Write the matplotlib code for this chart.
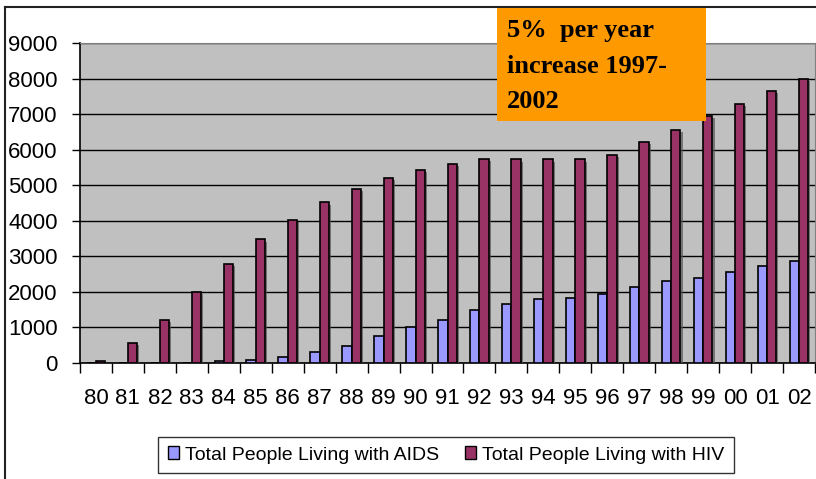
import matplotlib as mpl
mpl.use('Agg')
import matplotlib.pyplot as plt
import matplotlib.patheffects as pe
from matplotlib.patches import Rectangle, Patch
from matplotlib.lines import Line2D
import numpy as np

plt.rcParams['font.family'] = ['Liberation Sans', 'DejaVu Sans']

years = ['80','81','82','83','84','85','86','87','88','89','90','91',
         '92','93','94','95','96','97','98','99','00','01','02']
aids = [0, 0, 0, 0, 50, 95, 180, 310, 490, 750, 1010, 1220,
        1480, 1650, 1790, 1830, 1950, 2130, 2300, 2390, 2570, 2735, 2865]
hiv = [50, 565, 1220, 1995, 2775, 3475, 4035, 4515, 4900, 5210, 5420, 5610,
       5730, 5725, 5725, 5725, 5855, 6210, 6555, 6940, 7290, 7640, 7980]
note = "5%  per year\nincrease 1997-\n2002"

W, H = 816, 479
fig = plt.figure(figsize=(W/100, H/100), dpi=100)
fig.patch.set_facecolor('white')

# outer chart frame
fig.add_artist(Line2D([5/W, 1], [1-7/H, 1-7/H], color='#222222', lw=1.5))
fig.add_artist(Line2D([5/W, 5/W], [0, 1-7/H], color='#222222', lw=1.5))

ax = fig.add_axes([80/W, 1-363/H, 735/W, 320/H])
ax.set_facecolor('#C0C0C0')

x = np.arange(len(years))
bw = 0.29
shadow = [pe.SimplePatchShadow(offset=(1.5, -1.5), shadow_rgbFace='#555555', alpha=0.7), pe.Normal()]
b1 = ax.bar(x - bw/2, aids, bw, color='#9999FF', edgecolor='black', linewidth=1.2,
            label='Total People Living with AIDS', zorder=3)
b2 = ax.bar(x + bw/2, hiv, bw, color='#993366', edgecolor='black', linewidth=1.2,
            label='Total People Living with HIV', zorder=3)
for b in list(b1) + list(b2):
    b.set_path_effects(shadow)

ax.set_xlim(-0.5, len(years) - 0.5)
ax.set_ylim(0, 9000)
ax.set_yticks(range(0, 9001, 1000))
ax.yaxis.grid(True, color='black', lw=1)
ax.set_axisbelow(True)
ax.tick_params(axis='y', direction='out', length=6, width=1, pad=10, labelsize=16)

ax.set_xticks(x)
ax.set_xticklabels(years)
ax.set_xticks(np.arange(-0.5, len(years)), minor=True)
ax.tick_params(axis='x', which='major', length=0, pad=18, labelsize=16)
ax.tick_params(axis='x', which='minor', direction='out', length=7, width=1)

for s in ['top', 'right']:
    ax.spines[s].set_color('#808080')
for s in ['left', 'bottom']:
    ax.spines[s].set_color('black')
    ax.spines[s].set_linewidth(1.2)

# orange annotation box
fig.add_artist(Rectangle((497/W, 1-121/H), 209/W, 113/H, transform=fig.transFigure,
                         facecolor='#FF9900', edgecolor='none', zorder=5))
fig.text(507/W, 1-19/H, note, family=['Liberation Serif', 'DejaVu Serif'],
         fontweight='bold', fontsize=19, va='top', ha='left', linespacing=1.7, zorder=6)

handles = [Patch(facecolor='#9999FF', edgecolor='black'),
           Patch(facecolor='#993366', edgecolor='black')]
leg = fig.legend(handles, ['Total People Living with AIDS', 'Total People Living with HIV'],
                 loc='center', bbox_to_anchor=(446/W, 1-455/H), ncol=2, fontsize=14,
                 frameon=True, fancybox=False, edgecolor='black', handlelength=0.6,
                 handleheight=0.6, handletextpad=0.3, columnspacing=1.3, borderpad=0.5)
leg.get_frame().set_linewidth(1)

fig.savefig('out.png', dpi=100)
